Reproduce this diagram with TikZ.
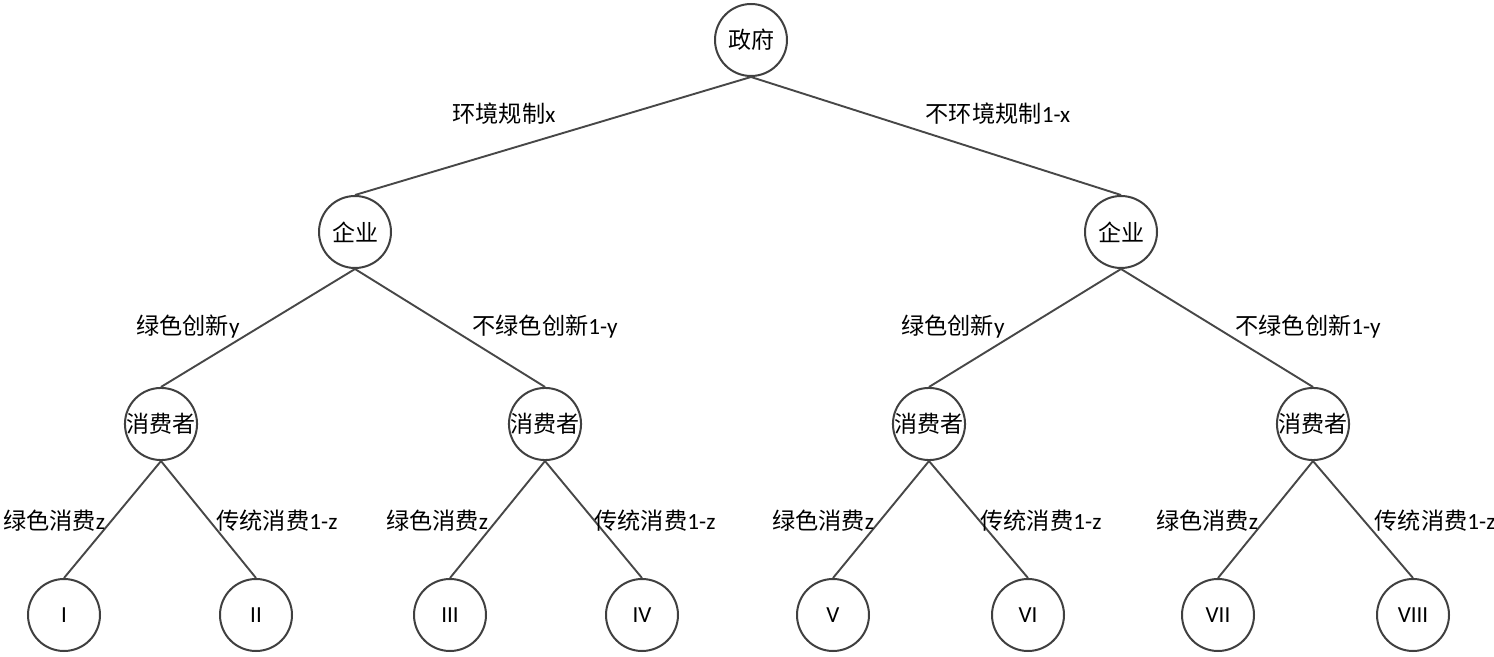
\documentclass[tikz,border=0pt]{standalone}
\usepackage{fontspec}
\setmainfont{Carlito}
\newfontfamily\cjk{Noto Sans CJK SC}[Scale=1]
\begin{document}
\begin{tikzpicture}[x=0.5pt,y=-0.5pt,
  circ/.style={circle,draw=black!75,line width=1pt,minimum size=36pt,inner sep=0pt,font=\fontsize{11.5}{13}\selectfont},
  edge/.style={draw=black!72,line width=0.95pt},
  lab/.style={inner sep=0pt,font=\fontsize{11.6}{13}\selectfont}]
\useasboundingbox (0,0) rectangle (1494,657);
% nodes
\node[circ] (g) at (751,40) {\cjk 政府};
\node[circ] (f1) at (355,232) {\cjk 企业};
\node[circ] (f2) at (1121,232) {\cjk 企业};
\node[circ] (c1) at (161,424) {\cjk 消费者};
\node[circ] (c2) at (545,424) {\cjk 消费者};
\node[circ] (c3) at (929,424) {\cjk 消费者};
\node[circ] (c4) at (1313,424) {\cjk 消费者};
\node[circ] (l1) at (64,615) {I};
\node[circ] (l2) at (256,615) {II};
\node[circ] (l3) at (450,615) {III};
\node[circ] (l4) at (642,615) {IV};
\node[circ] (l5) at (833,615) {V};
\node[circ] (l6) at (1028,615) {VI};
\node[circ] (l7) at (1218,615) {VII};
\node[circ] (l8) at (1413,615) {VIII};
% edges
\draw[edge] (g.south) -- (f1.north);
\draw[edge] (g.south) -- (f2.north);
\draw[edge] (f1.south) -- (c1.north);
\draw[edge] (f1.south) -- (c2.north);
\draw[edge] (f2.south) -- (c3.north);
\draw[edge] (f2.south) -- (c4.north);
\draw[edge] (c1.south) -- (l1.north);
\draw[edge] (c1.south) -- (l2.north);
\draw[edge] (c2.south) -- (l3.north);
\draw[edge] (c2.south) -- (l4.north);
\draw[edge] (c3.south) -- (l5.north);
\draw[edge] (c3.south) -- (l6.north);
\draw[edge] (c4.south) -- (l7.north);
\draw[edge] (c4.south) -- (l8.north);
% labels
\node[lab] (t1) at (504,114) {{\cjk 环境规制}x};
\node[lab] (t2) at (998,114) {{\cjk 不环境规制}1-x};
\node[lab] (t3) at (188,327) {{\cjk 绿色创新}y};
\node[lab] (t4) at (545,327) {{\cjk 不绿色创新}1-y};
\node[lab] (t5) at (953,327) {{\cjk 绿色创新}y};
\node[lab] (t6) at (1308,327) {{\cjk 不绿色创新}1-y};
\node[lab] (u1) at (54,521) {{\cjk 绿色消费}z};
\node[lab] (u2) at (277,521) {{\cjk 传统消费}1-z};
\node[lab] (u3) at (437,521) {{\cjk 绿色消费}z};
\node[lab] (u4) at (655,521) {{\cjk 传统消费}1-z};
\node[lab] (u5) at (823,521) {{\cjk 绿色消费}z};
\node[lab] (u6) at (1041,521) {{\cjk 传统消费}1-z};
\node[lab] (u7) at (1207,521) {{\cjk 绿色消费}z};
\node[lab] (u8) at (1435,521) {{\cjk 传统消费}1-z};
\end{tikzpicture}
\end{document}
